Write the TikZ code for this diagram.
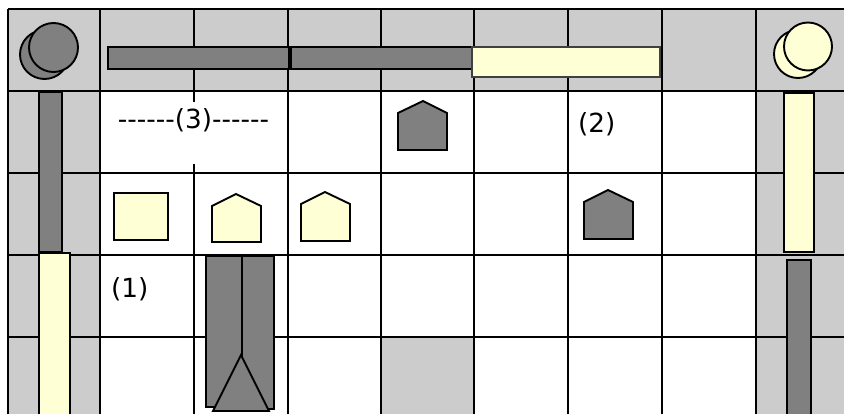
\documentclass[tikz,border=0pt]{standalone}
\usepackage{fontspec}
\setmainfont{DejaVu Sans}[Ligatures=TeXOff]
\definecolor{lg}{RGB}{204,204,204}
\definecolor{dg}{RGB}{128,128,128}
\definecolor{ly}{RGB}{255,255,213}
\begin{document}
\begin{tikzpicture}[x=1pt,y=-1pt,
  gridline/.style={line width=2.7pt,black},
  darkshape/.style={fill=dg,draw=black,line width=1.9pt,line join=miter},
  yellowshape/.style={fill=ly,draw=black,line width=1.9pt,line join=miter},
  yellowbar/.style={fill=ly,draw=black!75,line width=1.6pt},
  label/.style={inner sep=0pt,font=\fontsize{26.3}{31}\selectfont}]
\useasboundingbox (0,0) rectangle (844,414);
% cell fills
\fill[white] (0,0) rectangle (844,414);
\fill[lg] (8,9) rectangle (850,91);
\fill[lg] (8,9) rectangle (100,419);
\fill[lg] (756,9) rectangle (850,419);
\fill[lg] (381,337) rectangle (474,419);
% grid
\foreach \x in {8,100,194,288,381,474,568,662,756}
  \draw[gridline] (\x,9) -- (\x,419);
\foreach \y in {9,91,173,255,337}
  \draw[gridline] (8,\y) -- (850,\y);
% gap behind label (3)
\fill[white] (186,102) rectangle (202,164);
% top-left circles
\draw[darkshape] (44.5,54.5) circle (24.5);
\draw[darkshape] (53.5,47.5) circle (24.5);
% top-right circles
\draw[yellowshape] (798,54) circle (24);
\draw[yellowshape] (808,46.5) circle (24);
% top bars
\draw[darkshape] (108,47) rectangle (289,69);
\draw[darkshape] (291,47) rectangle (472,69);
\draw[yellowbar] (472,47) rectangle (660,77);
% left column bars
\draw[darkshape] (39,92) rectangle (62,252);
\draw[yellowshape] (39,253) rectangle (70,430);
% right column bars
\draw[yellowshape] (784,93) rectangle (814,252);
\draw[darkshape] (787,260) rectangle (811,430);
% yellow square
\draw[yellowshape] (114,193) rectangle (168,240);
% pentagons
\draw[yellowshape] (212,242) -- (212,206) -- (236,194) -- (261,206) -- (261,242) -- cycle;
\draw[yellowshape] (301,241) -- (301,204) -- (325,192) -- (350,204) -- (350,241) -- cycle;
\draw[darkshape] (398,150) -- (398,113) -- (423,101) -- (447,113) -- (447,150) -- cycle;
\draw[darkshape] (584,239) -- (584,202) -- (608,190) -- (633,202) -- (633,239) -- cycle;
% double bar with triangle
\draw[darkshape] (206,256) rectangle (242,407);
\draw[darkshape] (242,256) rectangle (274,409);
\draw[darkshape] (241,355) -- (269,411) -- (213,411) -- cycle;
% labels
\node[label,anchor=base] (l3) at (193.5,129) {-\kern0pt-\kern0pt-\kern0pt-\kern0pt-\kern0pt-(3)-\kern0pt-\kern0pt-\kern0pt-\kern0pt-\kern0pt-};
\node[label,anchor=base west] (l2) at (578,133) {(2)};
\node[label,anchor=base west] (l1) at (111,298) {(1)};
\end{tikzpicture}
\end{document}
